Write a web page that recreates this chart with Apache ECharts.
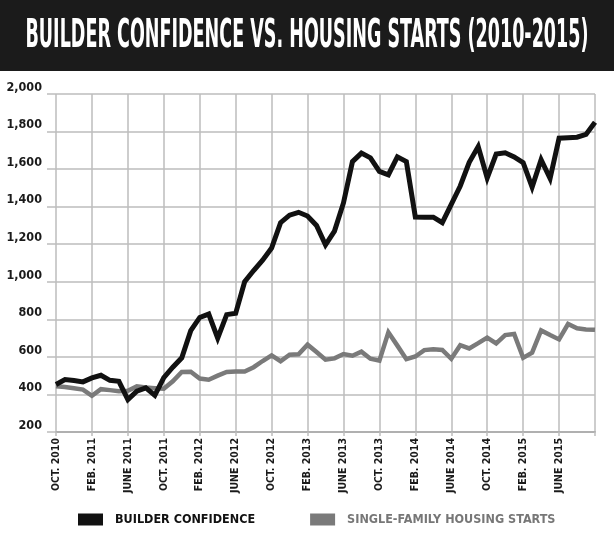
<!DOCTYPE html>
<html>
<head>
<meta charset="utf-8">
<script src="https://cdn.jsdelivr.net/npm/echarts@6/dist/echarts.min.js"></script>
<style>
html,body{margin:0;padding:0;background:#fff;}
#chart{width:614px;height:548px;}
</style>
</head>
<body>
<div id="chart"></div>
<script>
const titleText = "BUILDER CONFIDENCE VS. HOUSING STARTS (2010-2015)";
const seriesNames = ["BUILDER CONFIDENCE", "SINGLE-FAMILY HOUSING STARTS"];
const months = ["OCT. 2010","NOV. 2010","DEC. 2010","JAN. 2011","FEB. 2011","MAR. 2011","APR. 2011","MAY 2011","JUNE 2011","JULY 2011","AUG. 2011","SEPT. 2011","OCT. 2011","NOV. 2011","DEC. 2011","JAN. 2012","FEB. 2012","MAR. 2012","APR. 2012","MAY 2012","JUNE 2012","JULY 2012","AUG. 2012","SEPT. 2012","OCT. 2012","NOV. 2012","DEC. 2012","JAN. 2013","FEB. 2013","MAR. 2013","APR. 2013","MAY 2013","JUNE 2013","JULY 2013","AUG. 2013","SEPT. 2013","OCT. 2013","NOV. 2013","DEC. 2013","JAN. 2014","FEB. 2014","MAR. 2014","APR. 2014","MAY 2014","JUNE 2014","JULY 2014","AUG. 2014","SEPT. 2014","OCT. 2014","NOV. 2014","DEC. 2014","JAN. 2015","FEB. 2015","MAR. 2015","APR. 2015","MAY 2015","JUNE 2015","JULY 2015","AUG. 2015","SEPT. 2015","OCT. 2015"];
const builderConfidence = [453,479,474,467,488,502,475,470,373,418,435,395,490,545,595,740,810,828,700,825,832,1000,1060,1115,1180,1315,1355,1370,1350,1300,1197,1270,1420,1640,1685,1660,1588,1570,1665,1640,1345,1344,1344,1315,1412,1510,1636,1720,1553,1680,1687,1665,1634,1504,1650,1550,1765,1767,1770,1785,1850];
const housingStarts = [444,440,433,426,393,428,423,417,420,443,437,433,430,470,520,521,485,478,500,520,522,522,545,578,608,577,612,614,665,626,585,592,615,606,628,590,580,731,660,588,602,636,640,637,590,662,645,673,703,672,716,722,595,623,741,716,693,775,752,746,744];
const yTicks = {min: 200, max: 2000, step: 200};

const narrow = '"Liberation Sans Narrow", "DejaVu Sans Condensed", "Arial Narrow", sans-serif';
const gridColor = '#bdbdbd';

function fitScale(text, font, target) {
  const ctx = document.createElement('canvas').getContext('2d');
  ctx.font = font;
  return target / ctx.measureText(text).width;
}
const titleFont = 'bold 39px ' + narrow;
const titleScale = fitScale(titleText, titleFont, 563);

const chart = echarts.init(document.getElementById('chart'), null, {renderer: 'canvas'});
const showTick = (i) => i % 4 === 0;
chart.setOption({
  backgroundColor: '#ffffff',
  animation: false,
  graphic: [
    {type: 'rect', left: 0, top: 0, z: 0, shape: {width: 614, height: 71}, style: {fill: '#1b1b1b'}},
    {type: 'text', x: 307, y: 37, scaleX: titleScale, z: 1,
     style: {text: titleText, x: 0, y: 0, align: 'center', verticalAlign: 'middle',
             fill: '#ffffff', font: titleFont}}
  ],
  legend: {
    left: 73, top: 508, width: 560, itemWidth: 25, itemHeight: 12, itemGap: 55, icon: 'rect',
    data: [
      {name: seriesNames[0], textStyle: {color: '#111111'}},
      {name: seriesNames[1], textStyle: {color: '#777777'}}
    ],
    textStyle: {fontFamily: narrow, fontWeight: 'bold', fontSize: 12.5, padding: [0, 0, 0, 7]}
  },
  grid: {left: 56, right: 19, top: 94, bottom: 116, containLabel: false},
  xAxis: {
    type: 'category', data: months, boundaryGap: false,
    axisLine: {show: true, lineStyle: {color: '#b0b0b0', width: 2}},
    axisTick: {show: true, length: 4, interval: (i) => showTick(i), lineStyle: {color: gridColor, width: 1.5}},
    axisLabel: {interval: (i) => showTick(i) && i < months.length - 1, rotate: 90, margin: 6,
                fontFamily: narrow, fontWeight: 'bold', fontSize: 10.5, color: '#1a1a1a'},
    splitLine: {show: true, interval: (i) => showTick(i), lineStyle: {color: gridColor, width: 1.5}}
  },
  yAxis: {
    type: 'value', min: yTicks.min, max: yTicks.max, interval: yTicks.step,
    axisLine: {show: false},
    axisTick: {show: true, length: 9, lineStyle: {color: gridColor, width: 1.5}},
    axisLabel: {margin: 14, fontFamily: narrow, fontWeight: 'bold', fontSize: 12.5, color: '#1a1a1a',
                verticalAlign: 'bottom', formatter: (v) => v.toLocaleString('en-US')},
    splitLine: {show: true, lineStyle: {color: gridColor, width: 1.5}}
  },
  series: [
    {name: seriesNames[0], type: 'line', data: builderConfidence, symbol: 'none', z: 4,
     itemStyle: {color: '#111111'}, lineStyle: {color: '#111111', width: 5, join: 'miter'}},
    {name: seriesNames[1], type: 'line', data: housingStarts, symbol: 'none', z: 3,
     itemStyle: {color: '#7a7a7a'}, lineStyle: {color: '#7a7a7a', width: 4.5, join: 'miter'}}
  ]
});
</script>
</body>
</html>
